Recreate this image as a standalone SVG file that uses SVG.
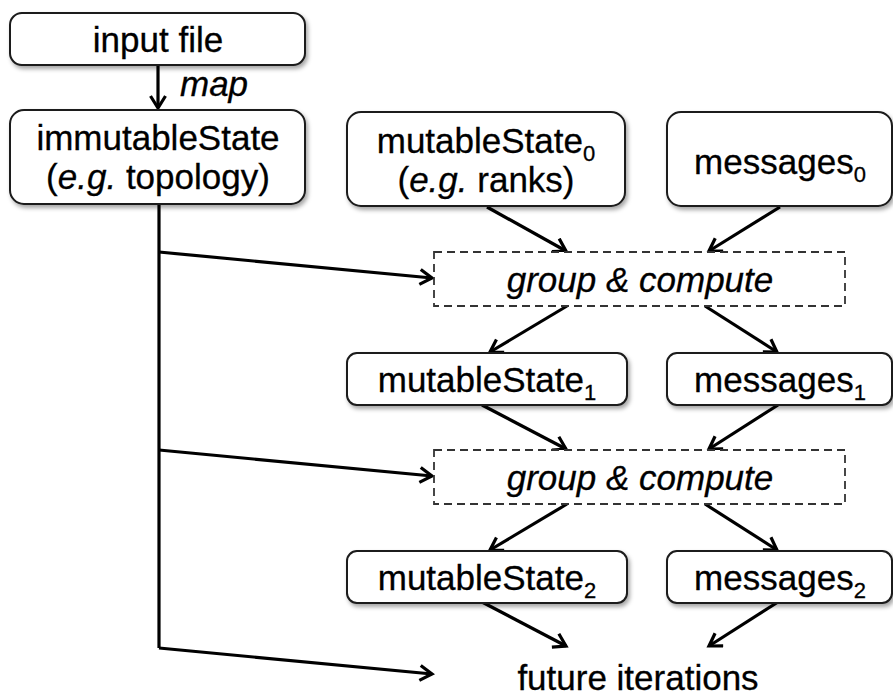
<svg xmlns="http://www.w3.org/2000/svg" width="893" height="698" viewBox="0 0 893 698">
<style>
text{font-family:"Liberation Sans",Arial,sans-serif;font-size:35px;fill:#000;stroke:#000;stroke-width:0.3;}
.it{font-style:italic;}
.sub{font-size:22px;}
.box{fill:#fff;stroke:#1a1a1a;stroke-width:2;filter:url(#sh);}
.dash{fill:#fff;stroke:#333;stroke-width:1.8;stroke-dasharray:8 5;}
.conn{fill:none;stroke:#000;stroke-width:3.2;marker-end:url(#ah);}
.plain{fill:none;stroke:#000;stroke-width:3.2;}
</style>
<defs>
<filter id="sh" x="-10%" y="-10%" width="130%" height="140%">
<feDropShadow dx="2" dy="3" stdDeviation="2" flood-color="#000" flood-opacity="0.35"/>
</filter>
<marker id="ah" markerUnits="userSpaceOnUse" markerWidth="22" markerHeight="22" refX="14" refY="9" orient="auto">
<path d="M2,1.5 L14,9 L2,16.5" fill="none" stroke="#000" stroke-width="3.2"/>
</marker>
</defs>
<rect width="893" height="698" fill="#fff"/>
<g id="connectors">
<line class="conn" x1="158" y1="65" x2="158" y2="108"/>
<polyline class="plain" points="159,205 159,648"/>
<line class="conn" x1="159" y1="252" x2="432" y2="278"/>
<line class="conn" x1="159" y1="450" x2="432" y2="476"/>
<line class="conn" x1="159" y1="648" x2="432" y2="674"/>
<line class="conn" x1="487" y1="207" x2="566" y2="251"/>
<line class="conn" x1="780" y1="207" x2="709" y2="251"/>
<line class="conn" x1="567" y1="306" x2="490" y2="352"/>
<line class="conn" x1="705" y1="306" x2="777" y2="352"/>
<line class="conn" x1="482" y1="405" x2="566" y2="449"/>
<line class="conn" x1="778" y1="405" x2="709" y2="449"/>
<line class="conn" x1="567" y1="504" x2="490" y2="550"/>
<line class="conn" x1="705" y1="504" x2="777" y2="550"/>
<line class="conn" x1="482" y1="602" x2="566" y2="646"/>
<line class="conn" x1="778" y1="602" x2="709" y2="646"/>
<text class="it" x="180" y="96">map</text>
</g>
<g id="input-file">
<rect class="box" x="10" y="13" width="295" height="52" rx="12"/>
<text x="158" y="52" text-anchor="middle">input file</text>
</g>
<g id="immutable-state">
<rect class="box" x="10" y="110" width="295" height="94" rx="14"/>
<text x="158" y="150" text-anchor="middle">immutableState</text>
<text x="158" y="189" text-anchor="middle">(<tspan class="it">e.g.</tspan> topology)</text>
</g>
<g id="mutable-state-0">
<rect class="box" x="347" y="112" width="278" height="94" rx="14"/>
<text x="486" y="153" text-anchor="middle">mutableState<tspan class="sub" dy="8">0</tspan></text>
<text x="486" y="192" text-anchor="middle">(<tspan class="it">e.g.</tspan> ranks)</text>
</g>
<g id="messages-0">
<rect class="box" x="667" y="112" width="225" height="94" rx="14"/>
<text x="780" y="174" text-anchor="middle">messages<tspan class="sub" dy="8">0</tspan></text>
</g>
<g id="group-compute-1">
<rect class="dash" x="434" y="252" width="411" height="54"/>
<text class="it" x="640" y="292" text-anchor="middle">group &amp; compute</text>
</g>
<g id="mutable-state-1">
<rect class="box" x="347" y="353" width="280" height="52" rx="10"/>
<text x="487" y="392" text-anchor="middle">mutableState<tspan class="sub" dy="8">1</tspan></text>
</g>
<g id="messages-1">
<rect class="box" x="667" y="353" width="225" height="52" rx="10"/>
<text x="780" y="392" text-anchor="middle">messages<tspan class="sub" dy="8">1</tspan></text>
</g>
<g id="group-compute-2">
<rect class="dash" x="434" y="450" width="411" height="54"/>
<text class="it" x="640" y="490" text-anchor="middle">group &amp; compute</text>
</g>
<g id="mutable-state-2">
<rect class="box" x="347" y="551" width="280" height="52" rx="10"/>
<text x="487" y="590" text-anchor="middle">mutableState<tspan class="sub" dy="8">2</tspan></text>
</g>
<g id="messages-2">
<rect class="box" x="667" y="551" width="225" height="52" rx="10"/>
<text x="780" y="590" text-anchor="middle">messages<tspan class="sub" dy="8">2</tspan></text>
</g>
<g id="future-iterations">
<text x="638" y="690" text-anchor="middle">future iterations</text>
</g>
</svg>
